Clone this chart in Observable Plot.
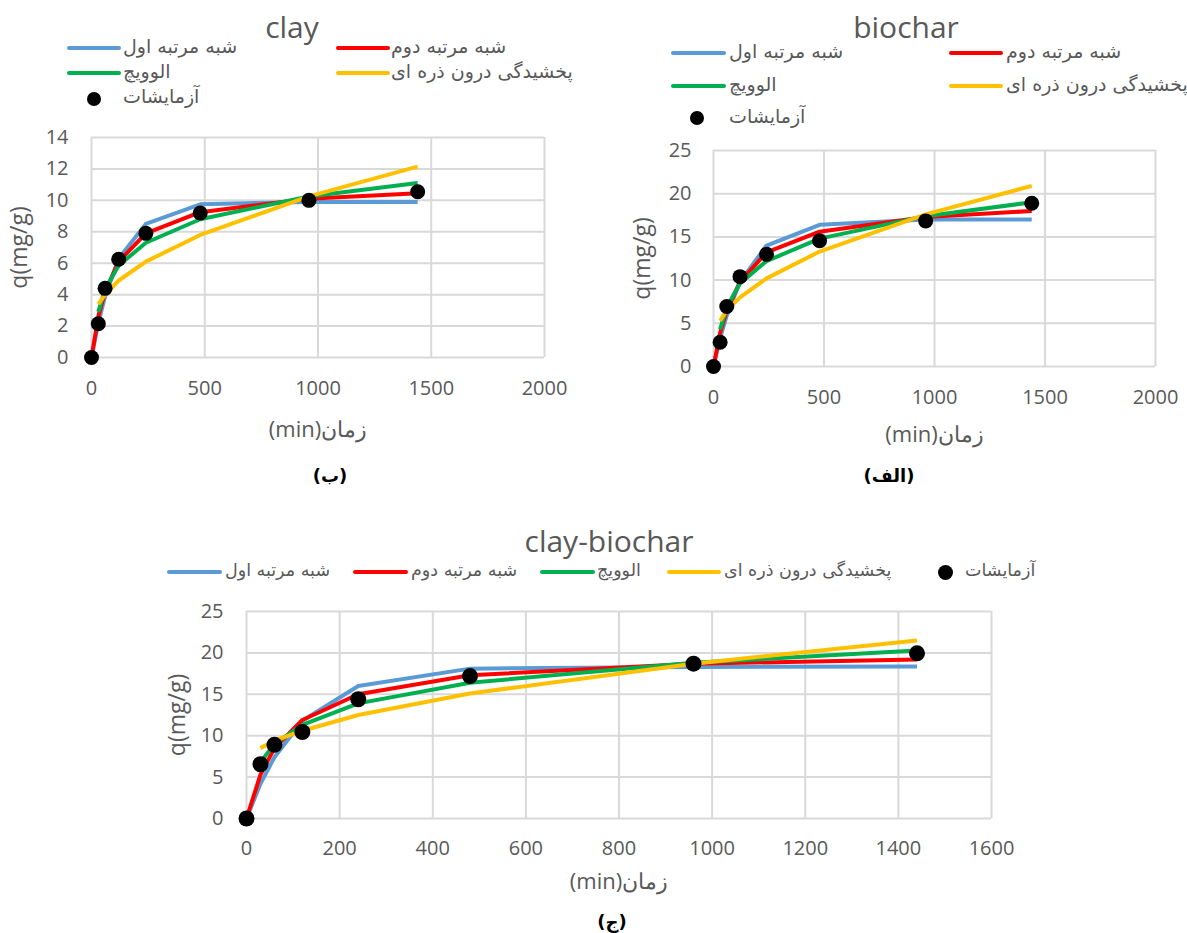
<!DOCTYPE html>
<html>
<head>
<meta charset="utf-8">
<script src="https://cdn.jsdelivr.net/npm/d3@7"></script>
<script src="https://cdn.jsdelivr.net/npm/@observablehq/plot@0.6"></script>
<style>
  html, body { margin: 0; padding: 0; background: #fff; }
  body { position: relative; width: 1187px; height: 933px; overflow: hidden; font-family: 'Open Sans', 'DejaVu Sans', sans-serif; }
  .abs { position: absolute; white-space: nowrap; }
  .title { color: #595959; font-family: 'Open Sans', sans-serif; font-size: 30px; }
  .leg { color: #595959; font-family: 'DejaVu Sans', sans-serif; font-size: 19px; }
  .leg.small { font-size: 17.5px; }
  .cap { color: #000; font-family: 'DejaVu Sans', sans-serif; font-size: 18px; font-weight: bold; }
  svg g[aria-label="x-axis label"] text { direction: rtl; font-size: 22px; }
  svg g[aria-label="y-axis label"] text { font-size: 23px; }
</style>
</head>
<body>
<script>
// ---------- data ----------
const times = [0, 30, 60, 120, 240, 480, 960, 1440];
const modelNames = ["شبه مرتبه اول", "شبه مرتبه دوم", "الوويچ", "پخشیدگی درون ذره ای"];
const expName = "آزمایشات";
const modelColors = ["#5B9BD5", "#FF0000", "#00B050", "#FFC000"];
const xAxisTitle = "زمان(min)";
const yAxisTitle = "q(mg/g)";

// clay (ب)
const clayTitle = "clay";
const clayCaption = "(ب)";
const clayExp      = [0, 2.15, 4.4, 6.25, 7.9, 9.2, 10.0, 10.55];
const clayFirst    = [0, 2.2, 3.9, 6.3, 8.5, 9.75, 9.9, 9.9];
const claySecond   = [0, 2.6, 4.2, 6.1, 7.9, 9.25, 10.1, 10.45];
const clayElovich  = [null, 2.9, 4.35, 5.85, 7.3, 8.8, 10.25, 11.1];
const clayIntra    = [null, 3.4, 4.0, 4.9, 6.1, 7.8, 10.25, 12.15];
const clayXTicks = [0, 500, 1000, 1500, 2000];
const clayYTicks = [0, 2, 4, 6, 8, 10, 12, 14];

// biochar (الف)
const biocharTitle = "biochar";
const biocharCaption = "(الف)";
const biocharExp     = [0, 2.8, 6.95, 10.4, 13.0, 14.55, 16.85, 18.9];
const biocharFirst   = [0, 3.3, 5.9, 9.8, 14.0, 16.4, 17.0, 17.0];
const biocharSecond  = [0, 3.9, 6.5, 9.8, 13.2, 15.6, 17.3, 18.0];
const biocharElovich = [null, 4.3, 6.9, 9.6, 12.2, 14.8, 17.4, 19.0];
const biocharIntra   = [null, 5.3, 6.5, 8.0, 10.2, 13.3, 17.6, 20.9];
const biocharXTicks = [0, 500, 1000, 1500, 2000];
const biocharYTicks = [0, 5, 10, 15, 20, 25];

// clay-biochar (ج)
const mixTitle = "clay-biochar";
const mixCaption = "(ج)";
const mixExp     = [0, 6.55, 8.9, 10.45, 14.4, 17.2, 18.7, 19.95];
const mixFirst   = [0, 4.2, 7.4, 11.8, 16.0, 18.1, 18.3, 18.35];
const mixSecond  = [0, 5.3, 8.5, 11.9, 15.0, 17.3, 18.7, 19.2];
const mixElovich = [null, 6.8, 9.0, 11.3, 13.9, 16.4, 18.8, 20.3];
const mixIntra   = [null, 8.5, 9.4, 10.6, 12.5, 15.1, 18.7, 21.5];
const mixXTicks = [0, 200, 400, 600, 800, 1000, 1200, 1400, 1600];
const mixYTicks = [0, 5, 10, 15, 20, 25];

// ---------- helpers ----------
function el(cls, css, text, dir) {
  const d = document.createElement("div");
  d.className = "abs " + cls;
  Object.assign(d.style, css);
  if (text != null) d.textContent = text;
  if (dir) d.dir = dir;
  document.body.appendChild(d);
  return d;
}
function textAt(cls, text, left, cy, dir, center) {
  const d = el(cls, {top: (cy - 30) + "px", height: "60px", lineHeight: "60px"}, text, dir);
  d.style.left = left + "px";
  if (center) d.style.transform = "translateX(-50%)";
  return d;
}
function legLine(x1, x2, cy, color) {
  el("", {left: x1 + "px", top: (cy - 2) + "px", width: (x2 - x1) + "px", height: "4px",
          background: color, borderRadius: "2px"});
}
function legDot(cx, cy, d) {
  el("", {left: (cx - d / 2) + "px", top: (cy - d / 2) + "px", width: d + "px", height: d + "px",
          background: "#000", borderRadius: "50%"});
}

function panel(cfg) {
  const series = [cfg.first, cfg.second, cfg.elovich, cfg.intra];
  const rows = [];
  series.forEach((vals, i) => times.forEach((t, j) => {
    if (vals[j] != null) rows.push({t, q: vals[j], model: modelNames[i]});
  }));
  const expRows = times.map((t, j) => ({t, q: cfg.exp[j]}));
  const grid = {stroke: "#D9D9D9", strokeOpacity: 1, strokeWidth: 2};
  const svg = Plot.plot({
    width: cfg.width, height: cfg.height,
    marginLeft: cfg.ml, marginRight: cfg.mr, marginTop: cfg.mt, marginBottom: cfg.mb,
    style: {fontFamily: "'Open Sans', sans-serif", fontSize: "20px", color: "#595959", background: "transparent", overflow: "visible"},
    x: {domain: [cfg.xTicks[0], cfg.xTicks[cfg.xTicks.length - 1]]},
    y: {domain: [cfg.yTicks[0], cfg.yTicks[cfg.yTicks.length - 1]]},
    color: {domain: modelNames, range: modelColors},
    marks: [
      Plot.gridY(cfg.yTicks, grid),
      Plot.gridX(cfg.xTicks, grid),
      Plot.axisX(cfg.xTicks, {tickSize: 0, tickPadding: cfg.xPad, tickFormat: d => String(d), label: xAxisTitle, labelAnchor: "center", labelArrow: "none", labelOffset: cfg.xLabOff, fill: "#595959"}),
      Plot.axisY(cfg.yTicks, {tickSize: 0, tickPadding: cfg.yPad, tickFormat: d => String(d), label: yAxisTitle, labelAnchor: "center", labelArrow: "none", labelOffset: cfg.yLabOff, fill: "#595959"}),
      Plot.line(rows, {x: "t", y: "q", z: "model", stroke: "model", strokeWidth: 4, strokeLinejoin: "round", strokeLinecap: "butt"}),
      Plot.dot(expRows, {x: "t", y: "q", r: cfg.r, fill: "#000", stroke: "none"})
    ]
  });
  svg.style.position = "absolute";
  svg.style.left = cfg.left + "px";
  svg.style.top = cfg.top + "px";
  document.body.appendChild(svg);
}

// ---------- clay ----------
panel({exp: clayExp, first: clayFirst, second: claySecond, elovich: clayElovich, intra: clayIntra,
  xTicks: clayXTicks, yTicks: clayYTicks, left: 0, top: 120, width: 580, height: 340,
  ml: 91, mr: 36, mt: 17, mb: 103, xPad: 23, yPad: 23, xLabOff: 79, yLabOff: 81, r: 7.5});
textAt("title", clayTitle, 292, 27, null, true);
legLine(67, 121, 48, modelColors[0]); textAt("leg", modelNames[0], 123, 46, "rtl");
legLine(336, 390, 48, modelColors[1]); textAt("leg", modelNames[1], 391, 46, "rtl");
legLine(67, 121, 73, modelColors[2]); textAt("leg", modelNames[2], 123, 71, "rtl");
legLine(336, 390, 73, modelColors[3]); textAt("leg", modelNames[3], 391, 71, "rtl");
legDot(94, 99, 14); textAt("leg", expName, 123, 96, "rtl");
textAt("cap", clayCaption, 330, 476, "rtl", true);

// ---------- biochar ----------
panel({exp: biocharExp, first: biocharFirst, second: biocharSecond, elovich: biocharElovich, intra: biocharIntra,
  xTicks: biocharXTicks, yTicks: biocharYTicks, left: 600, top: 130, width: 587, height: 330,
  ml: 113, mr: 32, mt: 20, mb: 94, xPad: 23, yPad: 22, xLabOff: 75, yLabOff: 80, r: 7.5});
textAt("title", biocharTitle, 906, 27, null, true);
legLine(671, 726, 53, modelColors[0]); textAt("leg", modelNames[0], 729, 51, "rtl");
legLine(949, 1003, 53, modelColors[1]); textAt("leg", modelNames[1], 1006, 51, "rtl");
legLine(671, 726, 86, modelColors[2]); textAt("leg", modelNames[2], 729, 84, "rtl");
legLine(949, 1003, 86, modelColors[3]); textAt("leg", modelNames[3], 1006, 84, "rtl");
legDot(697, 118, 14); textAt("leg", expName, 729, 116, "rtl");
textAt("cap", biocharCaption, 889, 476, "rtl", true);

// ---------- clay-biochar ----------
panel({exp: mixExp, first: mixFirst, second: mixSecond, elovich: mixElovich, intra: mixIntra,
  xTicks: mixXTicks, yTicks: mixYTicks, left: 140, top: 595, width: 880, height: 310,
  ml: 106, mr: 29, mt: 16, mb: 87, xPad: 22, yPad: 23, xLabOff: 70, yLabOff: 78, r: 8});
textAt("title", mixTitle, 609, 541, null, true);
legLine(167, 222, 572, modelColors[0]); textAt("leg small", modelNames[0], 225, 570, "rtl");
legLine(353, 408, 572, modelColors[1]); textAt("leg small", modelNames[1], 411, 570, "rtl");
legLine(540, 595, 572, modelColors[2]); textAt("leg small", modelNames[2], 597, 570, "rtl");
legLine(667, 721, 572, modelColors[3]); textAt("leg small", modelNames[3], 724, 570, "rtl");
legDot(945, 572, 15); textAt("leg small", expName, 965, 570, "rtl");
textAt("cap", mixCaption, 612, 922, "rtl", true);
</script>
</body>
</html>
